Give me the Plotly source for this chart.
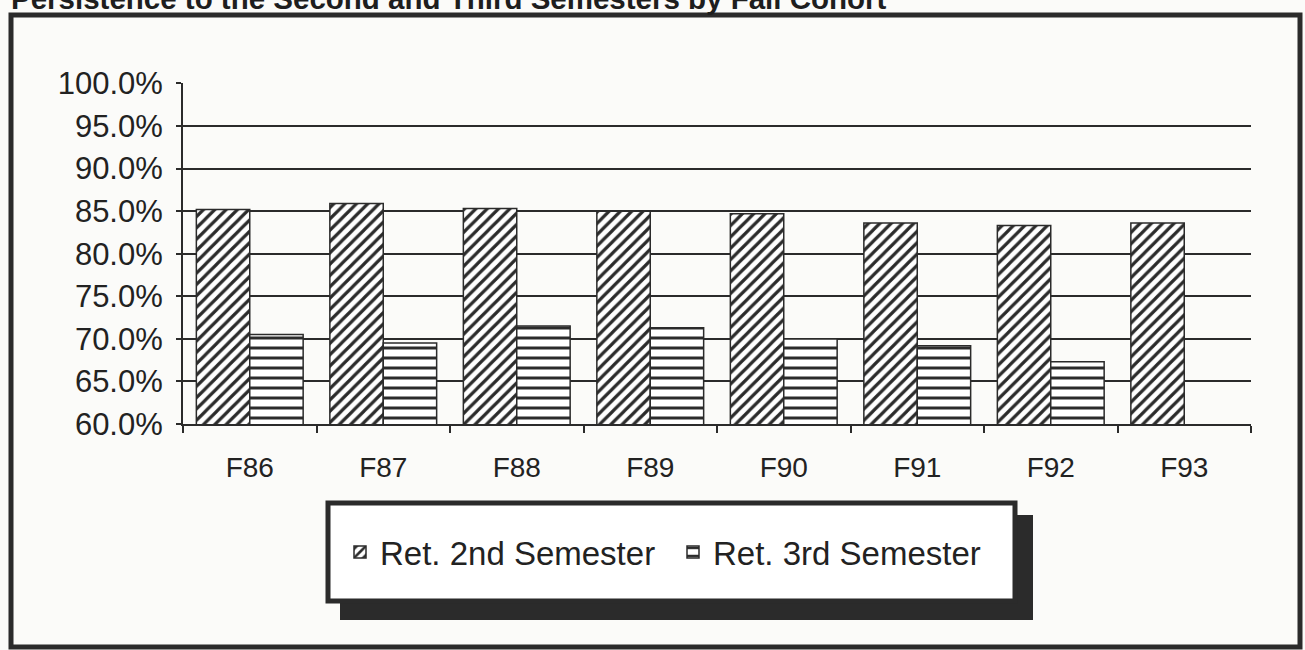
import plotly.graph_objects as go

# ---- data ----
cohorts = ["F86", "F87", "F88", "F89", "F90", "F91", "F92", "F93"]
ret_2nd = [0.852, 0.859, 0.853, 0.850, 0.847, 0.836, 0.833, 0.836]
ret_3rd = [0.705, 0.695, 0.715, 0.713, 0.700, 0.692, 0.673, None]
series_names = ["Ret. 2nd Semester", "Ret. 3rd Semester"]
y_ticks = [0.60, 0.65, 0.70, 0.75, 0.80, 0.85, 0.90, 0.95, 1.00]
title_text = "Persistence to the Second and Third Semesters by Fall Cohort"

W, H = 1305, 650
L, R, T, B = 183, 1251, 83, 424  # plot area in pixels
INK = "#2b2b2b"
FONT = "Liberation Sans, Arial, Helvetica, sans-serif"


def px(x):
    return (x - L) / (R - L)


def py(y):
    return (B - y) / (B - T)


fig = go.Figure()
fig.add_trace(go.Bar(
    x=cohorts, y=ret_2nd, name=series_names[0],
    marker=dict(color="white", line=dict(color=INK, width=1.5),
                pattern=dict(shape="/", fgcolor=INK, bgcolor="white",
                             size=8, solidity=0.4, fillmode="replace")),
))
fig.add_trace(go.Bar(
    x=cohorts, y=ret_3rd, name=series_names[1],
    marker=dict(color="white", line=dict(color=INK, width=1.5),
                pattern=dict(shape="-", fgcolor=INK, bgcolor="white",
                             size=10, solidity=0.3, fillmode="replace")),
))

shapes = [
    # outer frame
    dict(type="rect", xref="paper", yref="paper",
         x0=px(11), x1=px(1300), y0=py(15), y1=py(647),
         line=dict(color=INK, width=5), fillcolor="rgba(0,0,0,0)", layer="below"),
    # legend shadow
    dict(type="rect", xref="paper", yref="paper",
         x0=px(340), x1=px(1033), y0=py(515), y1=py(620),
         line=dict(width=0), fillcolor=INK, layer="above"),
    # legend box
    dict(type="rect", xref="paper", yref="paper",
         x0=px(328), x1=px(1015), y0=py(503), y1=py(601),
         line=dict(color=INK, width=5), fillcolor="white", layer="above"),
]

fig.update_layout(
    width=W, height=H,
    margin=dict(l=L, r=W - R, t=T, b=H - B, pad=0),
    paper_bgcolor="#fbfbf9", plot_bgcolor="#fbfbf9",
    font=dict(family=FONT, color="#222222"),
    barmode="group", bargap=0.2, bargroupgap=0,
    showlegend=True,
    legend=dict(orientation="h", x=px(340), xanchor="left",
                y=py(552), yanchor="middle",
                font=dict(size=33, family=FONT, color="#222222"),
                bgcolor="rgba(0,0,0,0)", borderwidth=0,
                entrywidth=288, entrywidthmode="pixels"),
    shapes=shapes,
    annotations=[dict(text="<b>" + title_text + "</b>", xref="paper", yref="paper",
                      x=px(9), xanchor="left", y=py(17), yanchor="bottom",
                      showarrow=False, font=dict(size=29.5, family=FONT, color="#1e1e1e"))],
)

fig.update_xaxes(
    showline=True, linecolor=INK, linewidth=2,
    ticks="outside", ticklen=7, tickwidth=1.5, tickcolor=INK,
    tickson="boundaries", ticklabelstandoff=17,
    tickfont=dict(size=28), showgrid=False,
)
fig.update_yaxes(
    range=[0.6, 1.0005], tickvals=y_ticks, tickformat=".1%",
    showline=True, linecolor=INK, linewidth=2,
    ticks="outside", ticklen=5, tickwidth=1.5, tickcolor=INK,
    ticklabelstandoff=7, tickfont=dict(size=31),
    showgrid=True, gridcolor=INK, gridwidth=1.5, zeroline=False,
)

fig.write_html("out.html", config={"displayModeBar": False},
               post_script="document.body.style.margin='0';")
